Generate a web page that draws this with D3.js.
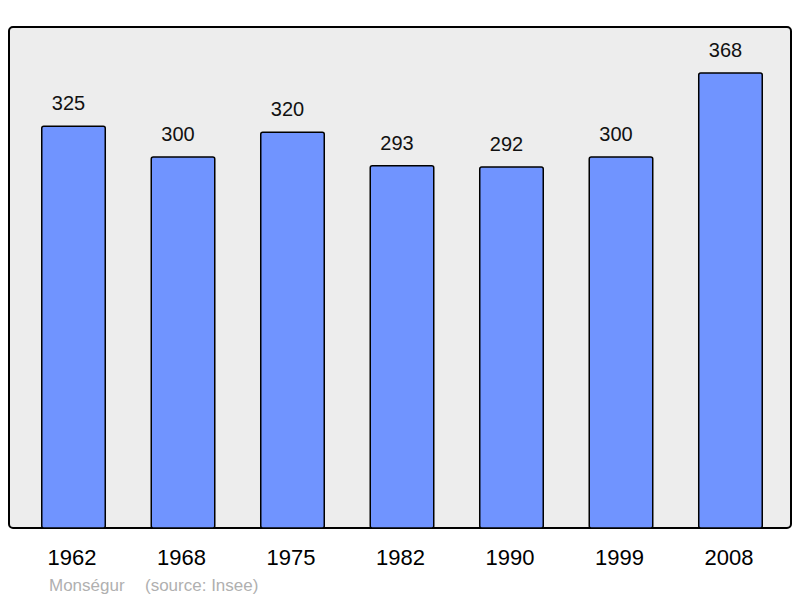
<!DOCTYPE html>
<html>
<head>
<meta charset="utf-8">
<script src="https://cdn.jsdelivr.net/npm/d3@7"></script>
<style>
  body { margin: 0; background: #fff; }
  text { font-family: "Liberation Sans", Arial, sans-serif; }
</style>
</head>
<body>
<div id="chart"></div>
<script>
const years = ["1962", "1968", "1975", "1982", "1990", "1999", "2008"];
const population = [325, 300, 320, 293, 292, 300, 368];
const townName = "Monségur";
const sourceText = "(source: Insee)";

const W = 800, H = 598;
const frame = { left: 9, top: 27, right: 791, bottom: 528 };

const svg = d3.select("#chart").append("svg")
  .attr("width", W)
  .attr("height", H);

// plot frame
svg.append("rect")
  .attr("x", frame.left)
  .attr("y", frame.top)
  .attr("width", frame.right - frame.left)
  .attr("height", frame.bottom - frame.top)
  .attr("rx", 4)
  .attr("fill", "#ededed")
  .attr("stroke", "#000")
  .attr("stroke-width", 2);

const x = d3.scaleBand()
  .domain(years)
  .range([10, 794])
  .paddingInner(0.42)
  .paddingOuter(0.29);

// 0 sits on the frame bottom
const y = d3.scaleLinear()
  .domain([0, 368])
  .range([frame.bottom, 73]);

const data = years.map((yr, i) => ({ year: yr, val: population[i] }));

svg.append("g")
  .selectAll("rect")
  .data(data)
  .join("rect")
  .attr("x", d => x(d.year))
  .attr("y", d => y(d.val))
  .attr("width", x.bandwidth())
  .attr("height", d => frame.bottom - y(d.val))
  .attr("rx", 2)
  .attr("fill", "#7094ff")
  .attr("stroke", "#000")
  .attr("stroke-width", 1.5);

// value labels sit a little left of the bar centre
svg.append("g")
  .selectAll("text")
  .data(data)
  .join("text")
  .attr("x", d => x(d.year) + x.bandwidth() / 2 - 5)
  .attr("y", d => y(d.val) - 16)
  .attr("text-anchor", "middle")
  .style("font-size", "20px")
  .attr("fill", "#111")
  .text(d => d.val);

// x axis labels
const xAxis = d3.axisBottom(x).tickSize(0).tickPadding(0);
svg.append("g")
  .attr("transform", "translate(-1.5," + 549 + ")")
  .call(xAxis)
  .call(g => g.select(".domain").remove())
  .selectAll("text")
  .style("font-size", "22px")
  .style("font-family", "'Liberation Sans', Arial, sans-serif")
  .attr("fill", "#000");

svg.append("text")
  .attr("x", 49)
  .attr("y", 591)
  .style("font-size", "17px")
  .attr("fill", "#b0b0b0")
  .text(townName);

svg.append("text")
  .attr("x", 145)
  .attr("y", 591)
  .style("font-size", "17px")
  .attr("fill", "#b0b0b0")
  .text(sourceText);
</script>
</body>
</html>
